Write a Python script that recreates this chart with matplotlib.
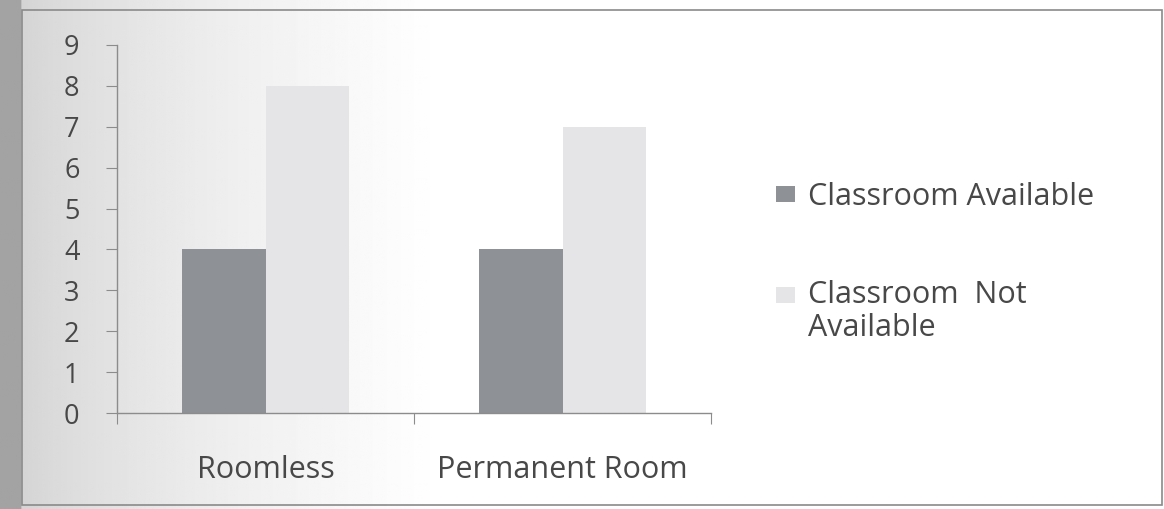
import numpy as np
import matplotlib.pyplot as plt
from matplotlib.patches import Rectangle

# data
categories = ["Roomless", "Permanent Room"]
available = [4, 4]              # Classroom Available
not_available = [8, 7]          # Classroom Not Available
series_labels = ["Classroom Available", "Classroom  Not\nAvailable"]
yticks = list(range(0, 10))

dark = "#8e9195"
light = "#e5e5e7"
axis_col = "#8c8c8c"
text_col = "#484848"

plt.rcParams['font.family'] = ['Open Sans', 'DejaVu Sans']

fig = plt.figure(figsize=(11.64, 5.09), dpi=100)

# scanned page background: grey fade on the left side
bg = fig.add_axes([0, 0, 1, 1], zorder=-10)
grad = np.linspace(0, 1, 600)
shade = np.clip(0.80 + 0.20 * (grad / 0.38) ** 0.6, 0, 1)
shade[:11] = 0.64
bg.imshow(np.tile(shade, (10, 1)), cmap="gray", vmin=0, vmax=1,
          aspect="auto", extent=[0, 1, 0, 1])
bg.add_patch(Rectangle((0.019, 0.008), 0.979, 0.972, fill=False,
                       edgecolor="#8a8a8a", lw=1.2))
bg.set_xlim(0, 1)
bg.set_ylim(0, 1)
bg.axis("off")

ax = fig.add_axes([0.1005, 0.1886, 0.5105, 0.723])
ax.patch.set_alpha(0)

x = np.arange(len(categories)) + 0.5
w = 0.28
ax.bar(x - w / 2, available, w, color=dark, label=series_labels[0], zorder=2)
ax.bar(x + w / 2, not_available, w, color=light, label=series_labels[1], zorder=2)

ax.set_xlim(0, len(categories))
ax.set_ylim(0, 9)
ax.set_yticks(yticks)
ax.set_xticks(np.arange(len(categories) + 1))
ax.set_xticklabels([])
ax.set_xticks(x, minor=True)
ax.set_xticklabels(categories, minor=True)

for s in ["top", "right"]:
    ax.spines[s].set_visible(False)
for s in ["left", "bottom"]:
    ax.spines[s].set_color(axis_col)
    ax.spines[s].set_linewidth(1)

ax.tick_params(axis="y", direction="out", length=8, color=axis_col,
               labelsize=19.5, labelcolor=text_col, pad=19)
ax.tick_params(axis="x", which="major", direction="out", length=8,
               color=axis_col)
ax.tick_params(axis="x", which="minor", length=0, labelsize=22,
               labelcolor=text_col, pad=30)

fs = 22
ls = 1.1
leg = ax.legend(loc="upper left", bbox_to_anchor=(0.6667, 0.643),
                bbox_transform=fig.transFigure, frameon=False,
                fontsize=fs, labelcolor=text_col, handlelength=0.62,
                handleheight=0.43, handletextpad=0.43, labelspacing=2.25,
                borderpad=0, borderaxespad=0)
for t in leg.get_texts():
    t.set_linespacing(ls)
# second key sits beside the first line of its label
h2 = leg.legend_handles[1]
h2.set_y(h2.get_y() + 0.5 * ls * fs)

fig.savefig("out.png", dpi=100)
